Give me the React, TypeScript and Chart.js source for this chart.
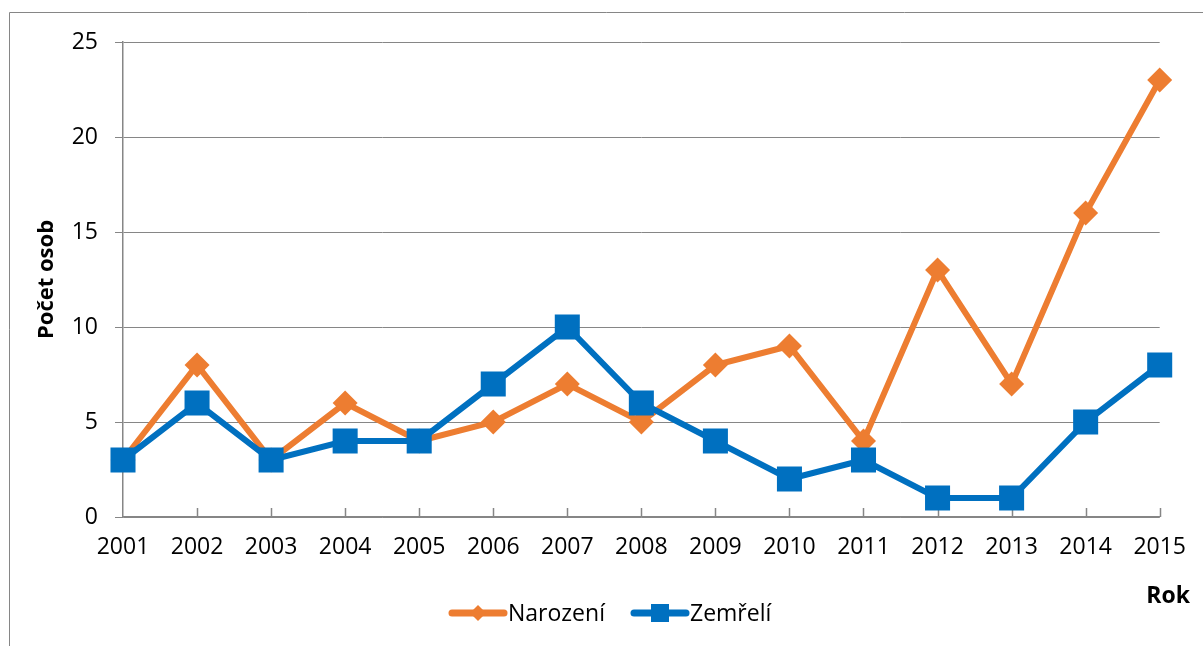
import React, { useEffect, useRef } from "react";
import { Chart, registerables } from "chart.js";

Chart.register(...registerables);

const years = ["2001", "2002", "2003", "2004", "2005", "2006", "2007", "2008", "2009", "2010", "2011", "2012", "2013", "2014", "2015"];
const narozeni = [3, 8, 3, 6, 4, 5, 7, 5, 8, 9, 4, 13, 7, 16, 23];
const zemreli = [3, 6, 3, 4, 4, 7, 10, 6, 4, 2, 3, 1, 1, 5, 8];
const seriesNames = ["Narození", "Zemřelí"];
const yTitle = "Počet osob";
const xTitle = "Rok";

const ORANGE = "#ED7D31";
const BLUE = "#0070C0";
const GRID = "#868686";
const FONT = "'Open Sans', sans-serif";

const W = 1203;
const H = 646;

const decorPlugin = {
  id: "decor",
  beforeDraw(chart: any) {
    const ctx = chart.ctx;
    ctx.save();
    ctx.strokeStyle = GRID;
    ctx.lineWidth = 1;
    ctx.beginPath();
    ctx.moveTo(9.5, H);
    ctx.lineTo(9.5, 12.5);
    ctx.lineTo(W, 12.5);
    ctx.stroke();
    ctx.restore();
  },
  beforeDatasetsDraw(chart: any) {
    const ctx = chart.ctx;
    const xs = chart.scales.x;
    const bottom = chart.chartArea.bottom;
    ctx.save();
    ctx.strokeStyle = GRID;
    ctx.lineWidth = 1.5;
    ctx.beginPath();
    for (let i = 1; i < years.length; i++) {
      const px = Math.round(xs.getPixelForValue(i)) + 0.5;
      ctx.moveTo(px, bottom);
      ctx.lineTo(px, bottom - 9);
    }
    ctx.stroke();
    ctx.restore();
  },
  afterDraw(chart: any) {
    const ctx = chart.ctx;
    const area = chart.chartArea;
    ctx.save();
    ctx.fillStyle = "#000";
    // y title
    ctx.font = `bold 22px ${FONT}`;
    ctx.textAlign = "center";
    ctx.textBaseline = "middle";
    ctx.translate(47, (area.top + area.bottom) / 2);
    ctx.rotate(-Math.PI / 2);
    ctx.fillText(yTitle, 0, 0);
    ctx.setTransform(1, 0, 0, 1, 0, 0);
    // x title
    ctx.font = `bold 23px ${FONT}`;
    ctx.textAlign = "right";
    ctx.textBaseline = "alphabetic";
    ctx.fillText(xTitle, 1190, 603);

    // legend
    const items = [
      { x: 449, color: ORANGE, style: "diamond", label: seriesNames[0] },
      { x: 631, color: BLUE, style: "square", label: seriesNames[1] },
    ];
    const ly = 613;
    ctx.font = `23px ${FONT}`;
    ctx.textAlign = "left";
    for (const it of items) {
      ctx.strokeStyle = it.color;
      ctx.lineWidth = 7;
      ctx.lineCap = "round";
      ctx.beginPath();
      ctx.moveTo(it.x + 3, ly);
      ctx.lineTo(it.x + 55, ly);
      ctx.stroke();
      ctx.fillStyle = it.color;
      const cx = it.x + 29;
      if (it.style === "diamond") {
        const r = 8;
        ctx.beginPath();
        ctx.moveTo(cx, ly - r);
        ctx.lineTo(cx + r, ly);
        ctx.lineTo(cx, ly + r);
        ctx.lineTo(cx - r, ly);
        ctx.closePath();
        ctx.fill();
      } else {
        const s = 18;
        ctx.fillRect(cx - s / 2, ly - s / 2, s, s);
      }
      ctx.fillStyle = "#000";
      ctx.fillText(it.label, it.x + 59, ly + 8);
    }
    ctx.restore();
  },
};

export default function App() {
  const ref = useRef<HTMLCanvasElement>(null);
  useEffect(() => {
    if (!ref.current) return;
    const chart = new Chart(ref.current, {
      type: "line",
      data: {
        labels: years,
        datasets: [
          {
            label: seriesNames[0],
            data: narozeni,
            borderColor: ORANGE,
            backgroundColor: ORANGE,
            borderWidth: 6,
            pointStyle: "rectRot",
            pointRadius: 12.5,
            pointBorderWidth: 0,
            pointBackgroundColor: ORANGE,
            tension: 0,
            order: 2,
          },
          {
            label: seriesNames[1],
            data: zemreli,
            borderColor: BLUE,
            backgroundColor: BLUE,
            borderWidth: 6,
            pointStyle: "rect",
            pointRadius: 17.7,
            pointBorderWidth: 0,
            pointBackgroundColor: BLUE,
            tension: 0,
            order: 1,
          },
        ],
      },
      options: {
        animation: false,
        responsive: false,
        devicePixelRatio: 1,
        layout: { padding: { left: 0, right: 41, top: 42, bottom: 0 } },
        plugins: { legend: { display: false }, tooltip: { enabled: false } },
        scales: {
          x: {
            offset: false,
            grid: { display: false, drawTicks: false },
            border: { color: GRID, width: 1.5 },
            ticks: { color: "#000", font: { family: FONT, size: 23 }, padding: 17, maxRotation: 0, autoSkip: false },
            afterFit: (s: any) => { s.height = 129; },
          },
          y: {
            min: 0,
            max: 25,
            ticks: { stepSize: 5, color: "#000", font: { family: FONT, size: 23 }, padding: 17 },
            grid: { color: GRID, lineWidth: 1, tickLength: 8, tickColor: GRID },
            border: { color: GRID, width: 1.5 },
            afterFit: (s: any) => { s.width = 123; },
          },
        },
      },
      plugins: [decorPlugin],
    });
    return () => chart.destroy();
  }, []);
  return (
    <canvas
      ref={ref}
      width={W}
      height={H}
      style={{ position: "fixed", left: 0, top: 0, width: W, height: H, background: "#fff" }}
    />
  );
}
